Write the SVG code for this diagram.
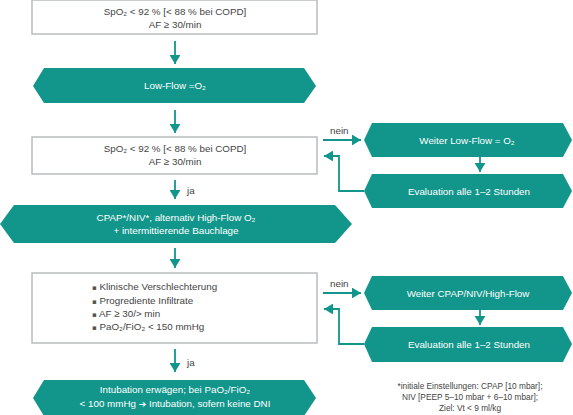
<svg xmlns="http://www.w3.org/2000/svg" width="573" height="415" viewBox="0 0 573 415">
<style>
.box{fill:#fff;stroke:#b9bdbd;stroke-width:1.5}
.hex{fill:#12968b}
.t{font-family:"Liberation Sans",Arial,sans-serif;font-size:9.8px;fill:#444;text-anchor:middle}
.w{font-family:"Liberation Sans",Arial,sans-serif;font-size:9.8px;fill:#fff;text-anchor:middle}
.l{font-family:"Liberation Sans",Arial,sans-serif;font-size:9.8px;fill:#444}
.f{font-family:"Liberation Sans",Arial,sans-serif;font-size:8.3px;fill:#444;text-anchor:middle}
.b{font-family:"DejaVu Sans",sans-serif;font-size:7px;fill:#555}
.c{fill:none;stroke:#12968b;stroke-width:1.8}
</style>
<defs>
<marker id="ah" markerWidth="6" markerHeight="6" refX="5" refY="3" orient="auto" markerUnits="strokeWidth">
<path d="M0,0 L5,3 L0,6 Z" fill="#12968b"/>
</marker>
</defs>
<rect width="573" height="415" fill="#fff"/>
<g id="connectors">
<line class="c" x1="175" y1="41" x2="175" y2="64" marker-end="url(#ah)"/>
<line class="c" x1="175" y1="110" x2="175" y2="133" marker-end="url(#ah)"/>
<line class="c" x1="175" y1="180" x2="175" y2="199" marker-end="url(#ah)"/>
<line class="c" x1="175" y1="248" x2="175" y2="268" marker-end="url(#ah)"/>
<line class="c" x1="175" y1="349" x2="175" y2="372" marker-end="url(#ah)"/>
<line class="c" x1="323" y1="140" x2="361" y2="140" marker-end="url(#ah)"/>
<line class="c" x1="480" y1="157" x2="480" y2="172" marker-end="url(#ah)"/>
<polyline class="c" points="364,191 339,191 339,156 324,156" marker-end="url(#ah)"/>
<line class="c" x1="323" y1="293" x2="361" y2="293" marker-end="url(#ah)"/>
<line class="c" x1="480" y1="310" x2="480" y2="325" marker-end="url(#ah)"/>
<polyline class="c" points="364,344 339,344 339,309 324,309" marker-end="url(#ah)"/>
<text class="l" x="187" y="193.5">ja</text>
<text class="l" x="187" y="365.5">ja</text>
<text class="l" x="330" y="134">nein</text>
<text class="l" x="330" y="287">nein</text>
</g>
<g id="n1">
<rect class="box" x="32" y="0" width="285" height="34"/>
<text class="t" x="175" y="15">SpO₂ &lt; 92 % [&lt; 88 % bei COPD]</text>
<text class="t" x="175" y="28">AF ≥ 30/min</text>
</g>
<g id="n2">
<polygon class="hex" points="33,86 44,68 304,68 316,86 304,103 44,103"/>
<text class="w" x="175" y="89">Low-Flow =O₂</text>
</g>
<g id="n3">
<rect class="box" x="32" y="137" width="285" height="37"/>
<text class="t" x="175" y="152">SpO₂ &lt; 92 % [&lt; 88 % bei COPD]</text>
<text class="t" x="175" y="165">AF ≥ 30/min</text>
</g>
<g id="n4">
<polygon class="hex" points="0,224 14,205 335,205 352,224 335,243 14,243"/>
<text class="w" x="176" y="221">CPAP*/NIV*, alternativ High-Flow O₂</text>
<text class="w" x="176" y="234">+ intermittierende Bauchlage</text>
</g>
<g id="n5">
<rect class="box" x="32" y="273" width="285" height="70"/>
<text class="l" x="92" y="289.5"><tspan class="b">▪</tspan> Klinische Verschlechterung</text>
<text class="l" x="92" y="303.5"><tspan class="b">▪</tspan> Progrediente Infiltrate</text>
<text class="l" x="92" y="316.5"><tspan class="b">▪</tspan> AF ≥ 30/&gt; min</text>
<text class="l" x="92" y="329.5"><tspan class="b">▪</tspan> PaO₂/FiO₂ &lt; 150 mmHg</text>
</g>
<g id="n6">
<polygon class="hex" points="33,398 44,380 304,380 316,398 304,416 44,416"/>
<text class="w" x="175" y="392.5">Intubation erwägen; bei PaO₂/FiO₂</text>
<text class="w" x="175" y="406.5">&lt; 100 mmHg <tspan font-family="DejaVu Sans, sans-serif" font-size="9">➔</tspan> Intubation, sofern keine DNI</text>
</g>
<g id="n7">
<polygon class="hex" points="364,140 372,123 563,123 572,140 563,157 372,157"/>
<text class="w" x="467" y="143.5">Weiter Low-Flow = O₂</text>
</g>
<g id="n8">
<polygon class="hex" points="364,191 372,174 563,174 572,191 563,208 372,208"/>
<text class="w" x="469" y="194.5">Evaluation alle 1–2 Stunden</text>
</g>
<g id="n9">
<polygon class="hex" points="364,293 372,276 563,276 572,293 563,310 372,310"/>
<text class="w" x="468" y="296.5">Weiter CPAP/NIV/High-Flow</text>
</g>
<g id="n10">
<polygon class="hex" points="364,344 372,327 563,327 572,344 563,362 372,362"/>
<text class="w" x="469" y="347.5">Evaluation alle 1–2 Stunden</text>
</g>
<g id="note">
<text class="f" x="470" y="389">*initiale Einstellungen: CPAP [10 mbar];</text>
<text class="f" x="470" y="400">NIV [PEEP 5–10 mbar + 6–10 mbar];</text>
<text class="f" x="470" y="411">Ziel: Vt &lt; 9 ml/kg</text>
</g>
</svg>
